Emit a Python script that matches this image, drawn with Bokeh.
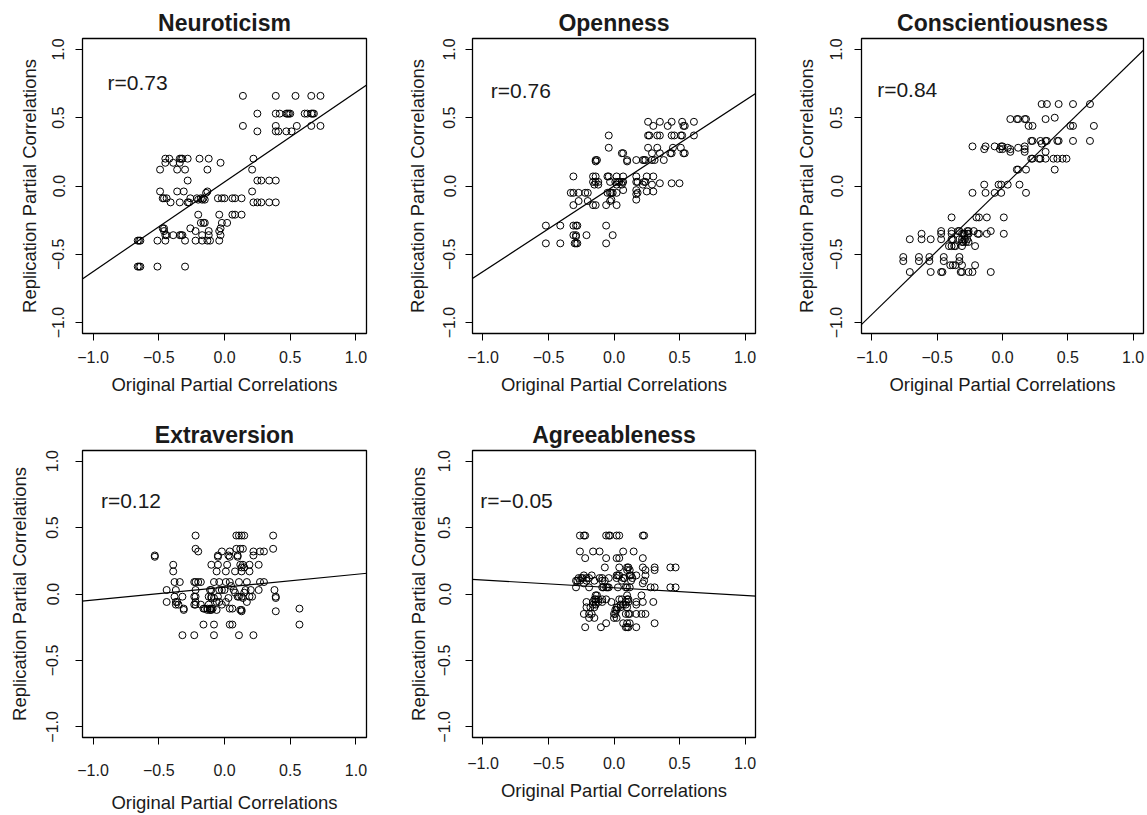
from bokeh.plotting import figure
from bokeh.models import Slope, Label, FixedTicker, CustomJSTickFormatter, Range1d
from bokeh.layouts import row, column
from bokeh.embed import file_html
from bokeh.resources import INLINE

# ---------------- data ----------------
titles = ["Neuroticism", "Openness", "Conscientiousness", "Extraversion", "Agreeableness"]
r_labels = ["r=0.73", "r=0.76", "r=0.84", "r=0.12", "r=\u22120.05"]
tick_values = [-1.0, -0.5, 0.0, 0.5, 1.0]
x_label = "Original Partial Correlations"
y_label = "Replication Partial Correlations"

# regression lines: (slope, intercept)
fit_slopes = [0.657, 0.627, 0.93, 0.097, -0.058]
fit_intercepts = [0.03, 0.0, -0.01, 0.051, 0.047]

neuroticism_pts = [
    (0.14, 0.66), (0.39, 0.66), (0.54, 0.66), (0.66, 0.66), (0.73, 0.66),
    (0.25, 0.53), (0.39, 0.53), (0.42, 0.53), (0.47, 0.53), (0.48, 0.53), (0.49, 0.53), (0.50, 0.53),
    (0.61, 0.53), (0.63, 0.53), (0.66, 0.53), (0.67, 0.53), (0.68, 0.53),
    (0.14, 0.44), (0.39, 0.44), (0.55, 0.44), (0.66, 0.44), (0.73, 0.44),
    (0.25, 0.40), (0.39, 0.40), (0.41, 0.40), (0.47, 0.40), (0.51, 0.40),
    (-0.45, 0.20), (-0.42, 0.20), (-0.34, 0.20), (-0.33, 0.20), (-0.32, 0.20), (-0.28, 0.20),
    (-0.19, 0.20), (-0.12, 0.20), (0.22, 0.20),
    (-0.45, 0.17), (-0.39, 0.17), (-0.34, 0.17), (-0.03, 0.17),
    (-0.49, 0.12), (-0.36, 0.12), (-0.30, 0.12), (-0.13, 0.12), (0.21, 0.12),
    (-0.28, 0.04), (0.25, 0.04), (0.28, 0.04), (0.34, 0.04), (0.39, 0.04),
    (-0.49, -0.04), (-0.36, -0.04), (-0.31, -0.04), (-0.13, -0.04), (0.21, -0.04), (-0.14, -0.05),
    (-0.47, -0.09), (-0.46, -0.09), (-0.44, -0.09), (-0.26, -0.09), (-0.21, -0.09), (-0.18, -0.09),
    (-0.16, -0.09), (-0.05, -0.09), (-0.02, -0.09), (0.0, -0.09), (0.06, -0.09), (0.08, -0.09), (0.13, -0.09),
    (-0.20, -0.10), (-0.17, -0.10), (-0.15, -0.10),
    (-0.41, -0.12), (-0.34, -0.12), (-0.28, -0.12), (-0.27, -0.12), (0.22, -0.12), (0.25, -0.12),
    (0.28, -0.12), (0.34, -0.12), (0.39, -0.12),
    (-0.20, -0.21), (-0.04, -0.21), (0.06, -0.21), (0.08, -0.21), (0.13, -0.21),
    (-0.18, -0.27), (-0.16, -0.27), (-0.15, -0.27), (-0.02, -0.27), (0.02, -0.27),
    (-0.47, -0.31), (-0.46, -0.31), (-0.26, -0.31), (-0.03, -0.31),
    (-0.46, -0.33), (-0.22, -0.33), (-0.12, -0.33), (-0.04, -0.33),
    (-0.45, -0.36), (-0.44, -0.36), (-0.39, -0.36), (-0.34, -0.36), (-0.33, -0.36), (-0.32, -0.36),
    (-0.17, -0.36), (-0.12, -0.36), (-0.03, -0.36),
    (-0.66, -0.40), (-0.65, -0.40), (-0.64, -0.40), (-0.51, -0.40), (-0.45, -0.40), (-0.30, -0.40),
    (-0.22, -0.40), (-0.17, -0.40), (-0.13, -0.40), (-0.11, -0.40), (-0.04, -0.40),
    (-0.66, -0.59), (-0.65, -0.59), (-0.64, -0.59), (-0.51, -0.59), (-0.30, -0.59),
]

openness_pts = [
    (0.26, 0.47), (0.35, 0.47), (0.44, 0.47), (0.52, 0.47), (0.61, 0.47),
    (0.30, 0.44), (0.41, 0.44), (0.53, 0.44), (0.54, 0.44),
    (-0.04, 0.37), (0.26, 0.37), (0.27, 0.37), (0.33, 0.37), (0.35, 0.37), (0.44, 0.37), (0.46, 0.37),
    (0.51, 0.37), (0.52, 0.37), (0.61, 0.37),
    (-0.04, 0.28), (0.26, 0.28), (0.33, 0.28), (0.45, 0.28), (0.51, 0.28),
    (0.06, 0.24), (0.07, 0.24), (0.29, 0.24), (0.35, 0.24), (0.43, 0.24), (0.44, 0.24), (0.53, 0.24), (0.54, 0.24),
    (-0.14, 0.19), (-0.14, 0.18), (-0.13, 0.19), (0.10, 0.19), (0.10, 0.18), (0.17, 0.19), (0.22, 0.19),
    (0.23, 0.19), (0.24, 0.19), (0.29, 0.19), (0.31, 0.19), (0.38, 0.19),
    (-0.31, 0.07), (-0.16, 0.07), (-0.14, 0.07), (-0.05, 0.07), (-0.04, 0.07), (0.02, 0.07), (0.07, 0.07),
    (0.17, 0.07), (0.25, 0.07), (0.30, 0.07),
    (-0.16, 0.03), (-0.14, 0.03), (-0.12, 0.03), (-0.03, 0.03), (0.01, 0.03), (0.03, 0.03), (0.04, 0.03),
    (0.06, 0.03), (0.07, 0.03), (0.17, 0.03), (0.18, 0.03), (0.23, 0.03), (0.24, 0.03), (0.35, 0.02),
    (0.44, 0.02), (0.50, 0.02),
    (-0.15, 0.01), (-0.12, 0.01), (0.02, 0.01), (0.06, 0.01), (0.22, 0.01), (0.29, 0.01),
    (0.07, -0.03), (0.17, -0.03), (0.25, -0.04), (0.30, -0.04),
    (-0.33, -0.05), (-0.31, -0.05), (-0.27, -0.05), (-0.22, -0.05), (-0.20, -0.05), (-0.05, -0.05),
    (-0.03, -0.05), (-0.02, -0.05), (-0.01, -0.05), (0.02, -0.05), (0.17, -0.06), (0.18, -0.05),
    (-0.27, -0.11), (-0.20, -0.11), (-0.03, -0.11), (-0.02, -0.10),
    (-0.31, -0.14), (-0.16, -0.14), (-0.14, -0.14), (-0.06, -0.14), (0.02, -0.14), (0.17, -0.10),
    (-0.52, -0.29), (-0.41, -0.29), (-0.31, -0.29), (-0.29, -0.29), (-0.28, -0.29), (-0.06, -0.29),
    (-0.31, -0.36), (-0.29, -0.36), (-0.21, -0.36), (-0.01, -0.36), (-0.29, -0.37),
    (-0.52, -0.42), (-0.41, -0.42), (-0.30, -0.42), (-0.29, -0.42), (-0.28, -0.42), (-0.06, -0.42),
]

conscientiousness_pts = [
    (0.30, 0.60), (0.34, 0.60), (0.43, 0.60), (0.54, 0.60), (0.67, 0.60),
    (0.06, 0.49), (0.11, 0.49), (0.12, 0.49), (0.17, 0.49), (0.18, 0.49), (0.33, 0.49), (0.40, 0.50),
    (0.20, 0.44), (0.23, 0.44), (0.52, 0.44), (0.54, 0.44), (0.70, 0.44),
    (0.22, 0.33), (0.23, 0.33), (0.29, 0.33), (0.33, 0.33), (0.34, 0.33), (0.42, 0.33), (0.43, 0.33),
    (0.54, 0.33), (0.67, 0.33), (0.30, 0.31),
    (-0.23, 0.29), (-0.13, 0.29), (-0.06, 0.29), (-0.01, 0.29), (0.0, 0.29), (0.04, 0.28), (0.17, 0.29),
    (-0.14, 0.27), (-0.02, 0.27), (0.0, 0.27), (0.06, 0.27), (0.12, 0.28), (0.17, 0.27),
    (0.06, 0.25), (0.17, 0.25), (0.33, 0.25),
    (0.22, 0.20), (0.23, 0.20), (0.28, 0.20), (0.29, 0.20), (0.33, 0.20), (0.39, 0.20), (0.42, 0.20),
    (0.46, 0.20), (0.49, 0.20),
    (0.11, 0.12), (0.12, 0.12), (0.18, 0.12), (0.40, 0.12),
    (-0.14, 0.01), (-0.03, 0.01), (-0.01, 0.01), (0.04, 0.01), (0.13, 0.01),
    (-0.23, -0.05), (-0.13, -0.05), (-0.06, -0.05), (-0.01, -0.05), (0.18, -0.05),
    (-0.39, -0.23), (-0.20, -0.23), (-0.18, -0.23), (-0.12, -0.23), (0.01, -0.23),
    (-0.47, -0.33), (-0.39, -0.33), (-0.34, -0.33), (-0.33, -0.33), (-0.27, -0.33), (-0.26, -0.33),
    (-0.22, -0.33), (-0.09, -0.33),
    (-0.62, -0.35), (-0.47, -0.35), (-0.39, -0.35), (-0.31, -0.35), (-0.30, -0.35), (-0.29, -0.35),
    (-0.27, -0.35), (-0.26, -0.35), (-0.19, -0.35), (-0.18, -0.35), (-0.12, -0.35), (0.01, -0.35),
    (-0.71, -0.39), (-0.62, -0.39), (-0.55, -0.39), (-0.47, -0.39), (-0.39, -0.39), (-0.38, -0.39),
    (-0.33, -0.39), (-0.31, -0.39), (-0.29, -0.39), (-0.27, -0.39),
    (-0.31, -0.41), (-0.30, -0.41), (-0.28, -0.41), (-0.26, -0.41),
    (-0.41, -0.44), (-0.39, -0.44), (-0.37, -0.44), (-0.36, -0.44), (-0.31, -0.44), (-0.21, -0.44),
    (-0.76, -0.52), (-0.64, -0.52), (-0.56, -0.52), (-0.45, -0.52), (-0.33, -0.52),
    (-0.76, -0.55), (-0.64, -0.55), (-0.56, -0.55), (-0.45, -0.55), (-0.33, -0.55),
    (-0.40, -0.58), (-0.38, -0.58), (-0.36, -0.58), (-0.31, -0.58), (-0.21, -0.58),
    (-0.71, -0.63), (-0.55, -0.63), (-0.47, -0.63), (-0.46, -0.63), (-0.32, -0.63), (-0.31, -0.63),
    (-0.26, -0.63), (-0.23, -0.63), (-0.09, -0.63),
]

extraversion_pts = [
    (-0.22, 0.44), (0.09, 0.44), (0.11, 0.44), (0.13, 0.44), (0.15, 0.44), (0.37, 0.44),
    (-0.22, 0.34), (0.09, 0.34), (0.12, 0.34), (0.14, 0.34), (0.37, 0.34),
    (-0.20, 0.32), (-0.02, 0.32), (0.04, 0.32), (0.22, 0.32), (0.27, 0.32), (0.30, 0.32),
    (-0.53, 0.29), (-0.53, 0.28), (-0.05, 0.29), (0.03, 0.29), (0.10, 0.29), (0.22, 0.29),
    (-0.05, 0.28), (0.04, 0.28), (0.10, 0.28),
    (-0.39, 0.22), (-0.10, 0.22), (-0.05, 0.22), (0.02, 0.22), (0.12, 0.22), (0.14, 0.22), (0.19, 0.22), (0.26, 0.22),
    (0.13, 0.20), (0.15, 0.20),
    (-0.39, 0.17), (-0.06, 0.17), (0.01, 0.17), (0.08, 0.17), (0.13, 0.17), (0.19, 0.17),
    (-0.38, 0.09), (-0.34, 0.09), (-0.23, 0.09), (-0.22, 0.09), (-0.20, 0.09), (-0.18, 0.09), (-0.08, 0.09),
    (-0.04, 0.09), (0.01, 0.09), (0.04, 0.09), (0.11, 0.09), (0.17, 0.09), (0.27, 0.09), (0.30, 0.09),
    (0.05, 0.06),
    (-0.44, 0.03), (-0.37, 0.03), (-0.22, 0.03), (-0.11, 0.03), (-0.10, 0.03), (-0.04, 0.03), (-0.02, 0.03),
    (0.0, 0.03), (0.07, 0.03), (0.16, 0.03), (0.20, 0.03), (0.26, 0.03), (0.38, 0.03),
    (0.15, 0.01), (0.08, 0.01),
    (-0.38, -0.02), (-0.32, -0.02), (-0.23, -0.02), (-0.22, -0.02), (-0.12, -0.02), (-0.10, -0.02),
    (-0.05, -0.02), (0.10, -0.02), (0.11, -0.02), (0.13, -0.02), (0.19, -0.02), (0.21, -0.02), (0.39, -0.02),
    (-0.10, -0.03), (-0.08, -0.03), (0.03, -0.03), (0.14, -0.03), (0.39, -0.03),
    (-0.44, -0.06), (-0.37, -0.06), (-0.36, -0.06), (-0.22, -0.06), (-0.06, -0.06), (-0.04, -0.06),
    (0.01, -0.06), (0.17, -0.06),
    (-0.37, -0.08), (-0.35, -0.08), (-0.23, -0.08), (-0.22, -0.08), (-0.18, -0.08), (-0.12, -0.08), (-0.02, -0.08),
    (-0.31, -0.11), (-0.16, -0.11), (-0.15, -0.11), (-0.13, -0.11), (-0.11, -0.11), (-0.10, -0.11),
    (-0.09, -0.11), (0.04, -0.11), (0.06, -0.11), (0.57, -0.11),
    (-0.31, -0.12), (-0.13, -0.12), (-0.11, -0.12), (-0.10, -0.12), (-0.06, -0.12), (0.12, -0.12), (0.13, -0.12),
    (0.39, -0.13), (0.13, -0.13),
    (-0.16, -0.23), (-0.08, -0.23), (0.04, -0.23), (0.06, -0.23), (0.57, -0.23),
    (-0.32, -0.31), (-0.23, -0.31), (-0.08, -0.31), (0.11, -0.31), (0.22, -0.31),
]

agreeableness_pts = [
    (-0.26, 0.44), (-0.23, 0.44), (-0.22, 0.44), (-0.06, 0.44), (-0.04, 0.44), (-0.03, 0.44),
    (0.02, 0.44), (0.04, 0.44), (0.22, 0.44), (0.23, 0.44),
    (-0.26, 0.32), (-0.16, 0.32), (-0.11, 0.32), (0.07, 0.32), (0.15, 0.32),
    (-0.22, 0.27), (-0.06, 0.27), (0.02, 0.27), (0.04, 0.27), (0.22, 0.27),
    (-0.07, 0.20), (0.04, 0.20), (0.10, 0.20), (0.11, 0.20), (0.22, 0.20), (0.31, 0.20), (0.43, 0.20), (0.47, 0.20),
    (0.10, 0.18), (0.12, 0.18), (0.24, 0.18), (0.31, 0.18),
    (-0.23, 0.14), (-0.17, 0.14), (0.02, 0.14), (0.03, 0.14), (0.04, 0.14), (0.12, 0.14), (0.13, 0.14),
    (0.17, 0.14), (0.24, 0.14),
    (-0.27, 0.12), (-0.25, 0.12), (-0.24, 0.12), (-0.21, 0.12), (-0.19, 0.12), (-0.11, 0.12), (-0.09, 0.12),
    (-0.04, 0.12), (0.02, 0.12), (0.07, 0.12), (0.08, 0.12), (0.14, 0.12),
    (-0.29, 0.10), (-0.28, 0.10), (-0.26, 0.10), (-0.21, 0.10), (-0.15, 0.10), (-0.09, 0.10), (-0.07, 0.10),
    (0.06, 0.10), (0.13, 0.10), (0.23, 0.10),
    (-0.23, 0.08), (0.22, 0.08),
    (-0.29, 0.05), (-0.19, 0.05), (-0.09, 0.05), (-0.08, 0.05), (-0.06, 0.05), (-0.05, 0.05), (-0.04, 0.05),
    (0.03, 0.05), (0.09, 0.05), (0.10, 0.05), (0.12, 0.05), (0.28, 0.05), (0.31, 0.05), (0.43, 0.05), (0.47, 0.05),
    (-0.14, -0.01), (-0.13, -0.01), (0.10, -0.01), (0.21, -0.01),
    (-0.15, -0.04), (-0.14, -0.04), (-0.12, -0.04), (-0.09, -0.04), (-0.06, -0.04), (0.04, -0.04),
    (0.06, -0.04), (0.10, -0.04), (0.11, -0.04),
    (-0.21, -0.06), (-0.16, -0.06), (-0.14, -0.06), (-0.12, -0.06), (-0.09, -0.06), (-0.02, -0.06),
    (0.09, -0.06), (0.11, -0.06), (0.17, -0.06), (0.22, -0.06), (0.30, -0.06),
    (-0.16, -0.08), (-0.14, -0.08), (0.05, -0.08), (0.07, -0.08), (0.09, -0.08), (0.17, -0.08),
    (-0.21, -0.10), (-0.18, -0.10), (-0.15, -0.10), (0.02, -0.10), (0.03, -0.10), (0.05, -0.10), (0.10, -0.10),
    (0.01, -0.12), (0.02, -0.12),
    (-0.23, -0.15), (-0.19, -0.15), (-0.17, -0.15), (0.0, -0.15), (0.01, -0.15), (0.09, -0.15), (0.11, -0.15),
    (0.12, -0.15), (0.17, -0.15), (0.21, -0.15), (0.24, -0.15),
    (-0.19, -0.18), (-0.15, -0.18), (0.0, -0.18), (0.02, -0.18),
    (-0.06, -0.22), (0.07, -0.22), (0.10, -0.22), (0.12, -0.22), (0.31, -0.22),
    (-0.22, -0.25), (-0.10, -0.25), (0.09, -0.25), (0.10, -0.25), (0.11, -0.25), (0.17, -0.25),
]

panel_points = [neuroticism_pts, openness_pts, conscientiousness_pts, extraversion_pts, agreeableness_pts]

# ---------------- layout / style (not data) ----------------
FONT = "Liberation Sans"
TXT = "#1a1a1a"
label_pos = [(-0.89, 0.76), (-0.94, 0.70), (-0.96, 0.71), (-0.94, 0.70), (-1.02, 0.70)]
geom = [
    dict(w=398, h=417, l=82, r=32, t=38, b=84, toff=-8, xs=10, xa=8, ys=11, ya=10),
    dict(w=389, h=417, l=74, r=32, t=38, b=84, toff=-13, xs=10, xa=8, ys=10, ya=13),
    dict(w=358, h=417, l=74, r=2, t=38, b=84, toff=-2, xs=10, xa=8, ys=12, ya=11),
    dict(w=398, h=398, l=82, r=32, t=30, b=71, toff=-9, xs=19, xa=13, ys=17, ya=14),
    dict(w=389, h=398, l=74, r=32, t=30, b=71, toff=11, xs=12, xa=8, ys=15, ya=7),
]

tick_fmt = CustomJSTickFormatter(code="return tick.toFixed(1).replace('-', '\u2212');")


def make_panel(i):
    g = geom[i]
    p = figure(width=g["w"], height=g["h"], output_backend="svg", toolbar_location=None,
               x_range=Range1d(-1.08, 1.08), y_range=Range1d(-1.08, 1.08),
               min_border_left=g["l"], min_border_right=g["r"],
               min_border_top=g["t"], min_border_bottom=g["b"],
               background_fill_color="white", border_fill_color="white")
    p.title.text = titles[i]
    p.title.align = "center"
    p.title.offset = g["toff"]
    p.title.standoff = 5
    p.title.text_font = FONT
    p.title.text_font_size = "23px"
    p.title.text_font_style = "bold"
    p.title.text_color = TXT

    p.outline_line_color = "black"
    p.outline_line_width = 1.3
    p.xgrid.visible = False
    p.ygrid.visible = False

    for ax, s, a in ((p.xaxis, g["xs"], g["xa"]), (p.yaxis, g["ys"], g["ya"])):
        ax.ticker = FixedTicker(ticks=tick_values)
        ax.formatter = tick_fmt
        ax.axis_line_color = None
        ax.major_tick_in = 0
        ax.major_tick_out = 7
        ax.major_tick_line_color = "black"
        ax.major_tick_line_width = 1
        ax.minor_tick_line_color = None
        ax.major_label_text_font = FONT
        ax.major_label_text_font_size = "16px"
        ax.major_label_text_color = TXT
        ax.major_label_standoff = s
        ax.axis_label_text_font = FONT
        ax.axis_label_text_font_size = "18.5px"
        ax.axis_label_text_font_style = "normal"
        ax.axis_label_text_color = TXT
        ax.axis_label_standoff = a
    p.xaxis.axis_label = x_label
    p.yaxis.axis_label = y_label
    p.yaxis.major_label_orientation = "vertical"

    pts = panel_points[i]
    xs = [q[0] for q in pts]
    ys = [q[1] for q in pts]
    p.scatter(xs, ys, marker="circle", size=7, fill_color=None,
              line_color="black", line_width=1)

    p.add_layout(Slope(gradient=fit_slopes[i], y_intercept=fit_intercepts[i],
                       line_color="black", line_width=1.2))

    lx, ly = label_pos[i]
    p.add_layout(Label(x=lx, y=ly, text=r_labels[i], text_align="left", text_baseline="middle",
                       text_font=FONT, text_font_size="21px", text_color=TXT))
    return p


panels = [make_panel(i) for i in range(5)]
layout = column(row(panels[0], panels[1], panels[2]), row(panels[3], panels[4]))

with open("out.html", "w") as f:
    f.write(file_html(layout, INLINE))
